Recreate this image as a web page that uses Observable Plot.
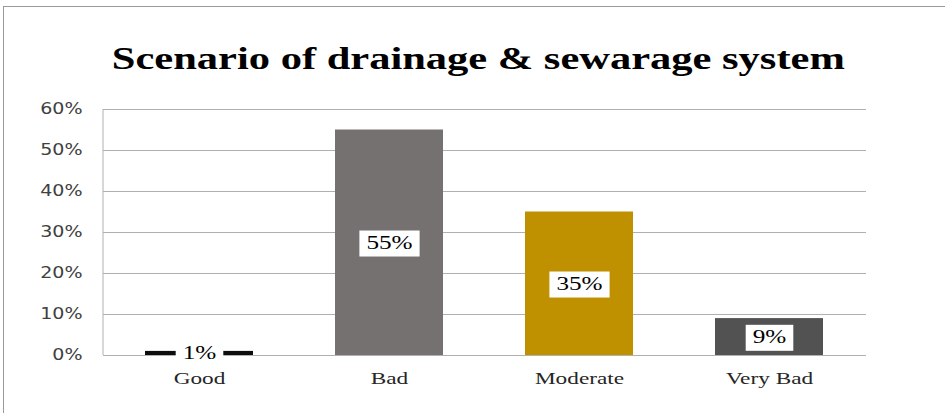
<!DOCTYPE html>
<html>
<head>
<meta charset="utf-8">
<script src="https://cdn.jsdelivr.net/npm/d3@7"></script>
<script src="https://cdn.jsdelivr.net/npm/@observablehq/plot@0.6"></script>
<style>
  html, body { margin: 0; padding: 0; background: #fff; width: 945px; height: 413px; overflow: hidden; }
  #frame { position: absolute; left: 3px; top: 6px; width: 960px; height: 420px; border: 1px solid #9a9a9a; box-sizing: border-box; pointer-events: none; }
  #titlewrap { position: absolute; left: 6px; top: 43px; width: 945px; text-align: center; }
  #title { display: inline-block; font-family: "Liberation Serif", "DejaVu Serif", serif; font-weight: bold; font-size: 31px; color: #000; line-height: 1; white-space: nowrap; transform-origin: 50% 50%; }
  #chart { position: absolute; left: 0; top: 90px; }
</style>
</head>
<body>
<div id="titlewrap"><span id="title">Scenario of drainage &amp; sewarage system</span></div>
<div id="chart"></div>
<div id="frame"></div>
<script>
const categories = ["Good", "Bad", "Moderate", "Very Bad"];
const values = [0.01, 0.55, 0.35, 0.09];
const colors = ["#0d0d0d", "#767171", "#bf9000", "#525252"];
const yTicks = [0, 0.1, 0.2, 0.3, 0.4, 0.5, 0.6];

const data = categories.map((c, i) => ({category: c, value: values[i], color: colors[i], label: Math.round(values[i] * 100) + "%"}));

const serif = "'Liberation Serif', 'DejaVu Serif', serif";
const sans = "'DejaVu Sans', Verdana, sans-serif";

const chart = Plot.plot({
  width: 945,
  height: 323,
  marginTop: 19,
  marginBottom: 58,
  marginLeft: 103,
  marginRight: 79,
  style: {fontFamily: serif, fontSize: "17.5px", color: "#262626", background: "transparent"},
  x: {domain: categories, paddingInner: 0.43, paddingOuter: 0.215, label: null},
  y: {domain: [0, 0.6], label: null},
  marks: [
    Plot.ruleY(yTicks, {stroke: "#b0b0b0", strokeWidth: 1}),
    Plot.barY(data, {x: "category", y: "value", fill: "color"}),
    Plot.axisX({tickSize: 0, tickPadding: 16, fontSize: 17.5, fill: "#262626", label: null}),
    Plot.axisY({ticks: yTicks, tickFormat: d => Math.round(d * 100) + "%", tickSize: 0, tickPadding: 21, fontSize: 15, fontFamily: sans, fill: "#404040", label: null}),
    Plot.text(data, {x: "category", y: d => d.value / 2, text: "label", fill: "#000", fontSize: 18, fontFamily: serif})
  ]
});
document.getElementById("chart").appendChild(chart);

function stretch(el, f) {
  const L = el.getComputedTextLength();
  el.setAttribute("textLength", (L * f).toFixed(2));
  el.setAttribute("lengthAdjust", "spacingAndGlyphs");
}

(function() {
  const svg = d3.select(chart);
  // left axis line
  svg.append("line").attr("x1", 103).attr("x2", 103).attr("y1", 19).attr("y2", 265)
    .attr("stroke", "#b0b0b0").attr("stroke-width", 1);
  // stretch axis labels
  svg.selectAll("g[aria-label='x-axis tick label'] text").each(function() { stretch(this, 1.33); });
  svg.selectAll("g[aria-label='y-axis tick label'] text").each(function() { stretch(this, 1.27); });
  // value labels with white boxes
  svg.selectAll("g[aria-label='text'] text").each(function() {
    stretch(this, 1.4);
    const b = this.getBBox();
    const padX = 7, padY = 3;
    const r = d3.select(this.parentNode).insert("rect", () => this)
      .attr("x", b.x - padX).attr("y", b.y - padY + 1)
      .attr("width", b.width + 2 * padX).attr("height", b.height + 2 * padY)
      .attr("fill", "#fff");
    const tr = this.getAttribute("transform");
    if (tr) r.attr("transform", tr);
  });
  // title stretch
  const t = document.getElementById("title");
  const w = t.getBoundingClientRect().width;
  t.style.transform = "scaleX(" + (733 / w) + ")";
})();
</script>
</body>
</html>
